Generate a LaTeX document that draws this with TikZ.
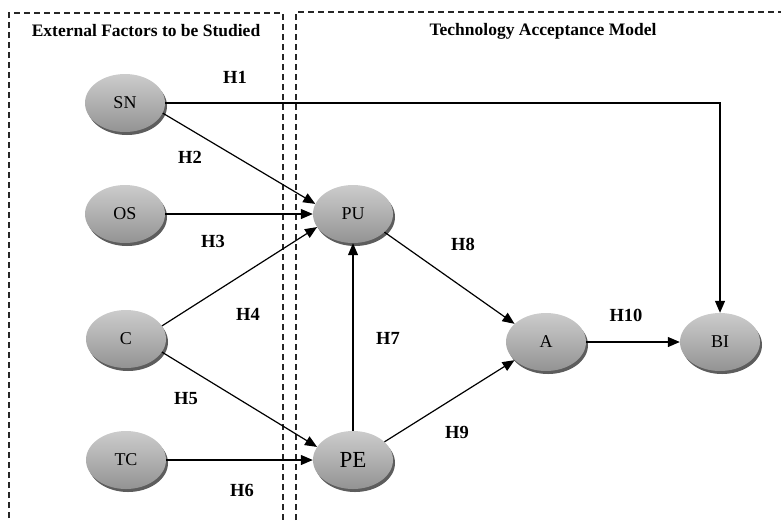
\documentclass[tikz,border=0pt]{standalone}
\usepackage{fontspec}
\setmainfont{Liberation Serif}
\usetikzlibrary{arrows.meta,shadows,shapes.geometric}
\begin{document}
\begin{tikzpicture}[x=1pt,y=-1pt,
  var/.style={ellipse,minimum width=80pt,minimum height=58pt,inner sep=0pt,
    top color=gray!40,bottom color=gray!85,middle color=gray!62,draw=none,
    drop shadow={shadow xshift=2pt,shadow yshift=-3pt,fill=black!70,opacity=0.9},
    font=\fontsize{18}{20}\selectfont},
  hlab/.style={font=\bfseries\fontsize{18.5}{20}\selectfont},
  head/.style={font=\bfseries\fontsize{17.5}{19}\selectfont},
  frame/.style={draw=black!85,line width=1.1pt,dash pattern=on 6pt off 4pt},
  conn/.style={draw=black,line width=1.2pt,-{Triangle[length=12pt,width=10pt]}}]
\useasboundingbox (0,0) rectangle (781,520);
\fill[white] (0,0) rectangle (781,520);
% frames
\draw[frame] (9,518) -- (9,13) -- (283,13) -- (283,520);
\draw[frame] (296,520) -- (296,12) -- (781,12);
\node[head] (h1) at (146,31) {External Factors to be Studied};
\node[head] (h2) at (543,31) {Technology Acceptance Model};
% nodes
\node[var] (SN) at (125,103) {SN};
\node[var] (OS) at (125,214) {OS};
\node[var] (C) at (126,339) {C};
\node[var] (TC) at (126,460) {TC};
\node[var] (PU) at (353,214) {PU};
\node[var,font=\fontsize{23}{26}\selectfont] (PE) at (353,460) {PE};
\node[var] (A) at (546,342) {A};
\node[var] (BI) at (720,342) {BI};
\coordinate (corner) at (720,103);
% connectors
\draw[conn] (SN.east) -- (corner) -- (BI.north);
\draw[conn] (SN.-15) -- (PU.165);
\draw[conn] (OS.east) -- (PU.west);
\draw[conn] (C.20) -- (PU.200);
\draw[conn] (C.-20) -- (PE.160);
\draw[conn] (TC.east) -- (PE.west);
\draw[conn] (PE.north) -- (PU.south);
\draw[conn] (PU.-30) -- (A.150);
\draw[conn] (PE.30) -- (A.210);
\draw[conn] (A.east) -- (BI.west);
% labels
\node[hlab] (l1) at (235,77) {H1};
\node[hlab] (l2) at (190,157) {H2};
\node[hlab] (l3) at (213,241) {H3};
\node[hlab] (l4) at (248,314) {H4};
\node[hlab] (l5) at (186,399) {H5};
\node[hlab] (l6) at (242,490) {H6};
\node[hlab] (l7) at (388,338) {H7};
\node[hlab] (l8) at (463,244) {H8};
\node[hlab] (l9) at (457,432) {H9};
\node[hlab] (l10) at (626,315) {H10};
\end{tikzpicture}
\end{document}
